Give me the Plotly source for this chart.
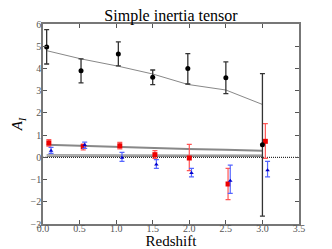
import plotly.graph_objects as go

# Black (circle) series
bx = [0.05, 0.52, 1.03, 1.50, 1.98, 2.50, 3.00]
by = [4.97, 3.90, 4.65, 3.60, 4.00, 3.58, 0.57]
by_up = [0.78, 0.53, 0.55, 0.33, 0.67, 0.72, 3.20]
by_dn = [0.77, 0.55, 0.53, 0.33, 0.70, 0.71, 3.22]
b_model = [4.80, 4.43, 4.10, 3.75, 3.28, 3.03, 2.38]
model_x = [0.05, 0.52, 1.03, 1.50, 1.98, 2.50, 3.00]

# Red (square) series
rx = [0.08, 0.55, 1.05, 1.53, 2.00, 2.53, 3.04]
ry = [0.65, 0.48, 0.52, 0.12, -0.03, -1.20, 0.72]
ry_up = [0.15, 0.12, 0.15, 0.18, 0.61, 0.70, 0.80]
ry_dn = [0.15, 0.15, 0.14, 0.17, 0.57, 0.70, 0.77]
r_model = [0.57, 0.52, 0.46, 0.39, 0.37, 0.34, 0.30]

# Blue (triangle) series
tx = [0.11, 0.57, 1.08, 1.55, 2.03, 2.56, 3.07]
ty = [0.30, 0.55, -0.02, -0.32, -0.70, -1.05, -0.58]
ty_up = [0.15, 0.13, 0.24, 0.22, 0.20, 0.70, 0.40]
ty_dn = [0.12, 0.15, 0.16, 0.18, 0.18, 0.57, 0.30]
t_model = [0.11, 0.10, 0.10, 0.10, 0.10, 0.10, 0.10]
t_model_low = [0.04, 0.04, 0.04, 0.04, 0.04, 0.04, 0.04]

fig = go.Figure()

# zero dotted line
fig.add_trace(go.Scatter(x=[0, 3.5], y=[0, 0], mode="lines",
                         line=dict(color="black", width=1, dash="1px,1px"),
                         showlegend=False, hoverinfo="skip"))

# model lines
for m, w, c in [(b_model, 1, "#888888"), (r_model, 2, "#888888"),
                (t_model, 1.2, "#888888"), (t_model_low, 1.2, "#888888")]:
    fig.add_trace(go.Scatter(x=model_x, y=m, mode="lines",
                             line=dict(color=c, width=w),
                             showlegend=False))

fig.add_trace(go.Scatter(
    x=rx, y=ry, mode="markers",
    marker=dict(symbol="square", color="#ee0000", size=5),
    error_y=dict(type="data", symmetric=False, array=ry_up, arrayminus=ry_dn,
                 color="#ff5555", thickness=1.2, width=2.5),
    showlegend=False))

fig.add_trace(go.Scatter(
    x=tx, y=ty, mode="markers",
    marker=dict(symbol="triangle-up", color="#0000cc", size=4),
    error_y=dict(type="data", symmetric=False, array=ty_up, arrayminus=ty_dn,
                 color="#5566ff", thickness=1.2, width=2.5),
    showlegend=False))

fig.add_trace(go.Scatter(
    x=bx, y=by, mode="markers",
    marker=dict(symbol="circle", color="black", size=5),
    error_y=dict(type="data", symmetric=False, array=by_up, arrayminus=by_dn,
                 color="#333333", thickness=1.3, width=2.5),
    showlegend=False))

font = "Liberation Serif, DejaVu Serif, serif"
axis_common = dict(showline=True, linecolor="#777777", linewidth=1.5, mirror="ticks",
                   ticks="inside", ticklen=4, tickcolor="#555555", showgrid=False,
                   zeroline=False, automargin=False,
                   tickfont=dict(family=font, size=10, color="#555555"))

fig.update_layout(
    width=324, height=241,
    margin=dict(l=35, r=33, t=16, b=25),
    paper_bgcolor="white", plot_bgcolor="white",
    title=dict(text="Simple inertia tensor", x=0.5, xref="paper", xanchor="center",
               yref="container", y=0.946, yanchor="bottom",
               font=dict(family=font, size=16, color="black")),
    xaxis=dict(range=[0, 3.5], tickvals=[0, 0.5, 1, 1.5, 2, 2.5, 3, 3.5],
               ticktext=["0.0", "0.5", "1.0", "1.5", "2.0", "2.5", "3.0", "3.5"],
               ticklabelstandoff=-6,
               title=dict(text="Redshift", standoff=0,
                          font=dict(family=font, size=15, color="black")),
               **axis_common),
    yaxis=dict(range=[-3, 6], tickvals=list(range(-3, 7)),
               ticktext=["\u22123", "\u22122", "\u22121", "0", "1", "2", "3", "4", "5", "6"],
               ticklabelstandoff=-2,
               title=dict(text="<i>A<sub>I</sub></i>", standoff=4,
                          font=dict(family=font, size=15, color="black")),
               **axis_common),
)

fig.write_html("out.html")
